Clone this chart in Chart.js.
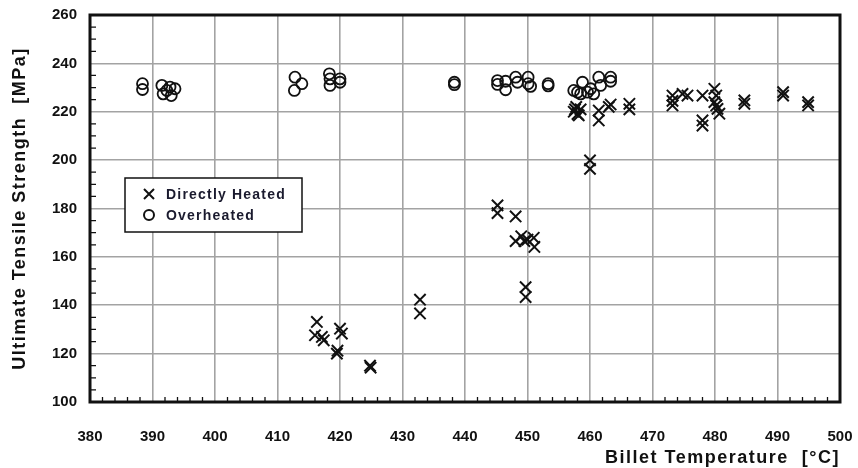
<!DOCTYPE html>
<html>
<head>
<meta charset="utf-8">
<script src="https://cdn.jsdelivr.net/npm/chart.js@4.4.0/dist/chart.umd.min.js"></script>
<style>
  html, body { margin: 0; padding: 0; background: #fff; }
  #wrap { width: 858px; height: 468px; }
</style>
</head>
<body>
<div id="wrap"><canvas id="uts"></canvas></div>
<script>
// billet temperature [°C] and tensile strength [MPa], directly heated billets
const directTemp = [416.3, 416.0, 417.1, 417.4, 420.0, 420.3, 419.6, 419.5,
  424.8, 424.9, 432.8, 432.8,
  445.2, 445.2, 448.1, 448.1, 449.0, 449.5, 450.0, 451.0, 451.1, 449.7, 449.7,
  460.0, 460.0,
  457.4, 457.8, 458.0, 458.5, 458.2, 457.6,
  461.4, 461.4, 463.0, 463.3, 466.3, 466.3,
  473.2, 473.2, 473.2, 474.8, 475.6,
  478.0, 478.0, 478.0, 479.9, 480.2, 479.9, 480.2, 480.4, 480.7,
  484.7, 484.7, 490.9, 490.9, 494.9, 494.9];
const directUts = [133.1, 127.6, 126.9, 125.5, 130.3, 128.3, 121.2, 120.0,
  115.0, 114.2, 142.3, 136.6,
  181.3, 178.1, 176.7, 166.5, 168.5, 166.5, 167.1, 167.9, 164.1, 147.5, 143.4,
  199.9, 196.4,
  220.0, 222.0, 219.0, 221.0, 218.5, 221.0,
  220.5, 216.4, 222.0, 223.0, 223.3, 221.0,
  226.7, 224.5, 222.6, 227.4, 226.7,
  226.7, 216.4, 214.3, 229.5, 226.7, 224.0, 222.6, 221.2, 219.2,
  224.7, 223.3, 228.1, 226.7, 224.0, 222.6];

// overheated billets
const overTemp = [388.4, 388.4,
  391.5, 392.8, 393.6, 391.7, 393.0, 392.3,
  412.8, 413.9, 412.7, 418.3, 418.4, 418.4, 420.0, 420.0,
  438.3, 438.3,
  445.2, 445.2, 446.5, 446.5, 448.1, 448.4, 450.1, 450.1, 450.5, 453.3, 453.3,
  457.4, 458.0, 458.5, 458.8, 459.6, 460.1, 460.6, 461.4, 461.7, 463.3, 463.3];
const overUts = [231.6, 229.2,
  230.9, 230.2, 229.5, 227.4, 226.7, 228.8,
  234.3, 231.6, 228.8, 235.7, 233.6, 230.9, 233.6, 232.2,
  232.2, 231.2,
  232.9, 231.3, 232.6, 229.1, 234.3, 232.2, 234.3, 231.6, 230.5, 231.6, 230.7,
  228.8, 228.1, 227.4, 232.2, 228.1, 229.5, 227.4, 234.3, 230.9, 234.3, 232.6];

const seriesNames = ['Directly Heated', 'Overheated'];
const xTitle = 'Billet Temperature  [°C]';
const yTitle = 'Ultimate Tensile Strength  [MPa]';

function pairs(xs, ys) {
  return xs.map((x, i) => ({ x: x, y: ys[i] }));
}

const INK = '#111';
const FONT = '"Liberation Sans", Arial, sans-serif';

// frame, inward minor ticks, axis titles and the boxed legend
const decorations = {
  id: 'decorations',
  afterDraw(chart) {
    const ctx = chart.ctx;
    const a = chart.chartArea;
    const xs = chart.scales.x, ys = chart.scales.y;
    ctx.save();

    ctx.strokeStyle = INK;
    ctx.lineWidth = 1.3;
    ctx.beginPath();
    for (let v = 382; v < 500; v += 2) {
      if (v % 10 === 0) continue;
      const px = xs.getPixelForValue(v);
      ctx.moveTo(px, a.bottom);
      ctx.lineTo(px, a.bottom - 5);
    }
    for (let v = 105; v < 260; v += 5) {
      if (v % 20 === 0) continue;
      const py = ys.getPixelForValue(v);
      ctx.moveTo(a.left, py);
      ctx.lineTo(a.left + 6, py);
    }
    ctx.stroke();

    ctx.lineWidth = 3;
    ctx.strokeRect(a.left, a.top, a.right - a.left, a.bottom - a.top);

    // axis titles
    ctx.fillStyle = INK;
    ctx.font = 'bold 18px ' + FONT;
    ctx.letterSpacing = '1.5px';
    ctx.textBaseline = 'middle';
    ctx.textAlign = 'right';
    ctx.fillText(xTitle, a.right, 458);
    ctx.save();
    ctx.translate(20, (a.top + a.bottom) / 2);
    ctx.rotate(-Math.PI / 2);
    ctx.textAlign = 'center';
    ctx.fillText(yTitle, 0, 0);
    ctx.restore();

    // legend
    const bx = 125, by = 178, bw = 177, bh = 54;
    ctx.fillStyle = '#fff';
    ctx.fillRect(bx, by, bw, bh);
    ctx.lineWidth = 1.5;
    ctx.strokeStyle = INK;
    ctx.strokeRect(bx, by, bw, bh);

    ctx.lineWidth = 2;
    ctx.beginPath();
    const mx = 149, r = 5;
    ctx.moveTo(mx - r, 194 - r); ctx.lineTo(mx + r, 194 + r);
    ctx.moveTo(mx - r, 194 + r); ctx.lineTo(mx + r, 194 - r);
    ctx.stroke();
    ctx.beginPath();
    ctx.arc(mx, 215, 5, 0, Math.PI * 2);
    ctx.stroke();

    ctx.fillStyle = '#1a1a2e';
    ctx.font = 'bold 14px ' + FONT;
    ctx.letterSpacing = '1.2px';
    ctx.textAlign = 'left';
    ctx.fillText(seriesNames[0], 166, 195);
    ctx.fillText(seriesNames[1], 166, 216);
    ctx.restore();
  }
};

new Chart(document.getElementById('uts'), {
  type: 'scatter',
  data: {
    datasets: [
      {
        label: seriesNames[1],
        data: pairs(overTemp, overUts),
        pointStyle: 'circle',
        pointRadius: 5.5,
        pointBorderWidth: 1.8,
        borderColor: INK,
        backgroundColor: 'rgba(0,0,0,0)'
      },
      {
        label: seriesNames[0],
        data: pairs(directTemp, directUts),
        pointStyle: 'crossRot',
        pointRadius: 8,
        pointBorderWidth: 2,
        borderColor: INK,
        backgroundColor: INK
      }
    ]
  },
  options: {
    responsive: true,
    maintainAspectRatio: false,
    animation: false,
    layout: { padding: { top: 15, right: 18, left: 0, bottom: 0 } },
    plugins: {
      legend: { display: false },
      tooltip: { enabled: false }
    },
    scales: {
      x: {
        type: 'linear',
        min: 380,
        max: 500,
        afterFit: (s) => { s.height = 66; s.paddingLeft = 0; s.paddingRight = 0; },
        ticks: {
          stepSize: 10,
          padding: 26,
          maxRotation: 0,
          color: INK,
          font: { family: FONT, size: 15, weight: 'bold' }
        },
        grid: { color: '#a3a3a3', lineWidth: 1.6, drawTicks: false },
        border: { display: false }
      },
      y: {
        min: 100,
        max: 260,
        afterFit: (s) => { s.width = 90; s.paddingTop = 0; s.paddingBottom = 0; },
        ticks: {
          stepSize: 20,
          padding: 13,
          color: INK,
          font: { family: FONT, size: 15, weight: 'bold' }
        },
        grid: { color: '#a3a3a3', lineWidth: 1.6, drawTicks: false },
        border: { display: false }
      }
    }
  },
  plugins: [decorations]
});
</script>
</body>
</html>
